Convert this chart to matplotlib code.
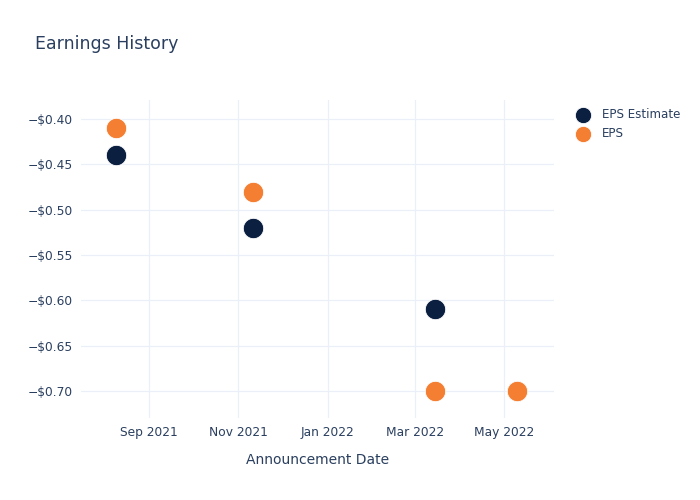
import matplotlib
matplotlib.use("Agg")
import matplotlib.pyplot as plt
import matplotlib.dates as mdates
from matplotlib.ticker import FuncFormatter
import pandas as pd

# Data
dates = ["2021-08-10", "2021-11-11", "2022-03-15", "2022-05-10"]
eps_estimate = [-0.44, -0.52, -0.61, -0.70]
eps_actual = [-0.41, -0.48, -0.70, -0.70]

text_col = "#2a3f5f"
grid_col = "#ebf0f8"

d = pd.to_datetime(dates)

fig = plt.figure(figsize=(7, 5), dpi=100)
ax = fig.add_axes([0.1157, 0.164, 0.676, 0.636])

ax.scatter(d, eps_estimate, s=215, color="#0b1f41", edgecolor="white", linewidth=0.6,
           label="EPS Estimate", zorder=3)
ax.scatter(d, eps_actual, s=215, color="#f47f33", edgecolor="white", linewidth=0.6,
           label="EPS", zorder=4)

ax.set_xlim(pd.Timestamp("2021-07-17"), pd.Timestamp("2022-06-04"))
ax.set_ylim(-0.7298, -0.379)

ax.xaxis.set_major_locator(mdates.MonthLocator(bymonth=[1, 3, 5, 7, 9, 11]))
ax.xaxis.set_major_formatter(mdates.DateFormatter("%b %Y"))
ax.set_yticks([-0.40, -0.45, -0.50, -0.55, -0.60, -0.65, -0.70])
ax.yaxis.set_major_formatter(FuncFormatter(lambda v, p: "\u2212$%.2f" % abs(v)))

ax.grid(True, color=grid_col, linewidth=0.9)
ax.set_axisbelow(True)
for s in ax.spines.values():
    s.set_visible(False)
ax.tick_params(length=0, labelsize=8.8, colors=text_col, pad=6)

ax.set_xlabel("Announcement Date", fontsize=10, color=text_col, labelpad=10)
fig.text(0.05, 0.912, "Earnings History", fontsize=12.5, color=text_col, va="center")

leg = ax.legend(loc="upper left", bbox_to_anchor=(1.025, 0.99), frameon=False,
                fontsize=8.6, labelcolor=text_col, handletextpad=0.6,
                markerscale=0.8, borderaxespad=0)

fig.savefig("out.png", dpi=100, facecolor="white")
